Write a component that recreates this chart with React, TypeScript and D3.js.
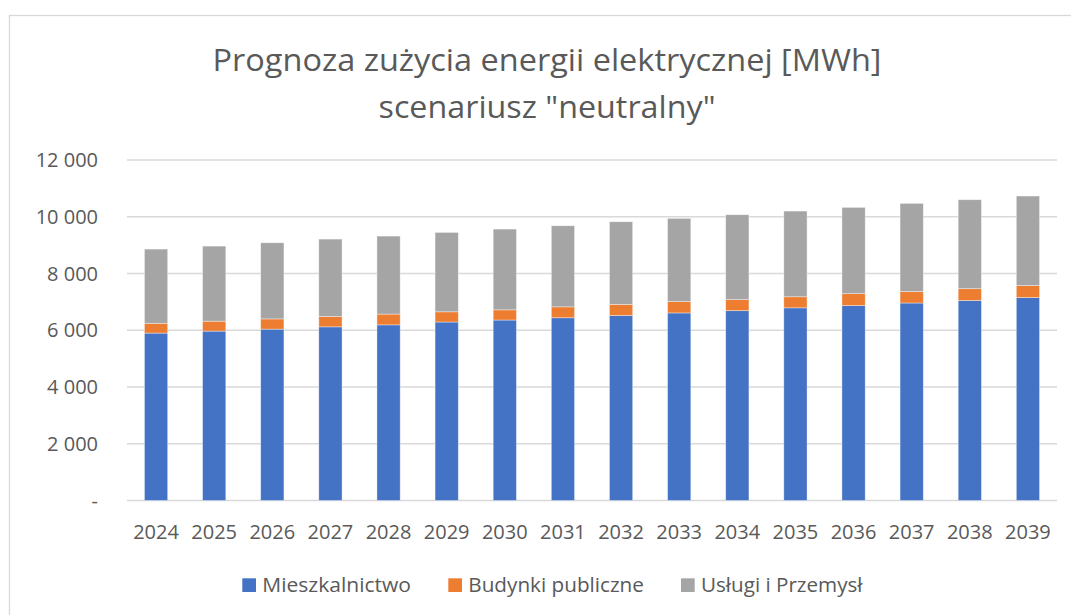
import React, { useEffect, useRef } from 'react';
import * as d3 from 'd3';

const years = ['2024', '2025', '2026', '2027', '2028', '2029', '2030', '2031', '2032', '2033', '2034', '2035', '2036', '2037', '2038', '2039'];
const mieszkalnictwo = [5900, 5970, 6040, 6120, 6190, 6290, 6360, 6440, 6520, 6610, 6690, 6790, 6870, 6960, 7050, 7150];
const budynkiPubliczne = [345, 350, 360, 365, 380, 360, 360, 385, 390, 400, 390, 390, 420, 405, 415, 425];
const uslugiPrzemysl = [2615, 2645, 2682, 2727, 2748, 2797, 2845, 2857, 2914, 2932, 2991, 3020, 3040, 3106, 3135, 3155];

const seriesNames = ['Mieszkalnictwo', 'Budynki publiczne', 'Usługi i Przemysł'];
const seriesColors = ['#4472C4', '#ED7D31', '#A5A5A5'];
const yTicks = [0, 2000, 4000, 6000, 8000, 10000, 12000];
const titleLines = ['Prognoza zużycia energii elektrycznej [MWh]', 'scenariusz "neutralny"'];

const FONT = "'Open Sans', 'Noto Sans', sans-serif";
const TEXT = '#595959';

const App = () => {
  const svgRef = useRef<SVGSVGElement>(null);

  useEffect(() => {
    const svg = d3.select(svgRef.current);
    svg.selectAll('*').remove();

    const W = 1071, H = 615;
    const plot = { left: 127, right: 1057, top: 160, bottom: 500.5 };

    svg.append('rect').attr('width', W).attr('height', H).attr('fill', '#fff');
    svg.append('rect')
      .attr('x', 9.5).attr('y', 15.5)
      .attr('width', W + 20).attr('height', H + 20)
      .attr('fill', 'none').attr('stroke', '#D9D9D9').attr('stroke-width', 1.3);

    // title, two lines
    const titleWidths = [669, 337];
    titleLines.forEach((line, i) => {
      svg.append('text')
        .attr('x', 547).attr('y', 71 + i * 46.5)
        .attr('text-anchor', 'middle')
        .attr('font-family', FONT).attr('font-size', 31)
        .attr('fill', TEXT)
        .attr('textLength', titleWidths[i]).attr('lengthAdjust', 'spacingAndGlyphs')
        .text(line);
    });

    const x = d3.scaleBand<string>()
      .domain(years)
      .range([plot.left, plot.right])
      .paddingInner(0.6)
      .paddingOuter(0.3);

    const y = d3.scaleLinear().domain([0, 12000]).range([plot.bottom, plot.top]);

    const locale = d3.formatLocale({ decimal: ',', thousands: ' ', grouping: [3], currency: ['', ''] });
    const fmt = locale.format(',.0f');

    // gridlines
    svg.append('g').selectAll('line')
      .data(yTicks)
      .enter().append('line')
      .attr('x1', plot.left).attr('x2', plot.right)
      .attr('y1', d => y(d)).attr('y2', d => y(d))
      .attr('stroke', '#D9D9D9').attr('stroke-width', 1.5);

    // y labels
    svg.append('g').selectAll('text')
      .data(yTicks)
      .enter().append('text')
      .attr('x', 98).attr('y', d => y(d))
      .attr('dy', '0.36em')
      .attr('text-anchor', 'end')
      .attr('font-family', FONT).attr('font-size', 20)
      .attr('fill', TEXT)
      .text(d => (d === 0 ? '-' : fmt(d)));

    // stacked bars
    const rows = years.map((yr, i) => ({
      year: yr,
      m: mieszkalnictwo[i],
      b: budynkiPubliczne[i],
      u: uslugiPrzemysl[i],
    }));
    const layers = d3.stack<any>().keys(['m', 'b', 'u'])(rows);

    layers.forEach((layer, li) => {
      svg.append('g').selectAll('rect')
        .data(layer)
        .enter().append('rect')
        .attr('x', d => x(d.data.year)!)
        .attr('width', x.bandwidth())
        .attr('y', d => y(d[1]))
        .attr('height', d => y(d[0]) - y(d[1]))
        .attr('fill', seriesColors[li])
        .attr('stroke', '#ffffff').attr('stroke-opacity', 0.5).attr('stroke-width', 0.75);
    });

    // x labels
    svg.append('g').selectAll('text')
      .data(years)
      .enter().append('text')
      .attr('x', d => x(d)! + x.bandwidth() / 2)
      .attr('y', 538.5)
      .attr('text-anchor', 'middle')
      .attr('font-family', FONT).attr('font-size', 20)
      .attr('fill', TEXT)
      .text(d => d);

    // legend
    const legendX = [242.3, 448.3, 681];
    const legendTextW = [148.7, 175.6, 161.5];
    seriesNames.forEach((name, i) => {
      const g = svg.append('g').attr('transform', `translate(${legendX[i]},578.3)`);
      g.append('rect').attr('width', 13.7).attr('height', 13.7).attr('fill', seriesColors[i]);
      g.append('text')
        .attr('x', 20).attr('y', 14)
        .attr('font-family', FONT).attr('font-size', 20)
        .attr('fill', TEXT)
        .attr('textLength', legendTextW[i]).attr('lengthAdjust', 'spacingAndGlyphs')
        .text(name);
    });
  }, []);

  return (
    <div style={{ position: 'absolute', left: 0, top: 0 }}>
      <svg ref={svgRef} width={1071} height={615} style={{ display: 'block' }} />
    </div>
  );
};

export default App;
